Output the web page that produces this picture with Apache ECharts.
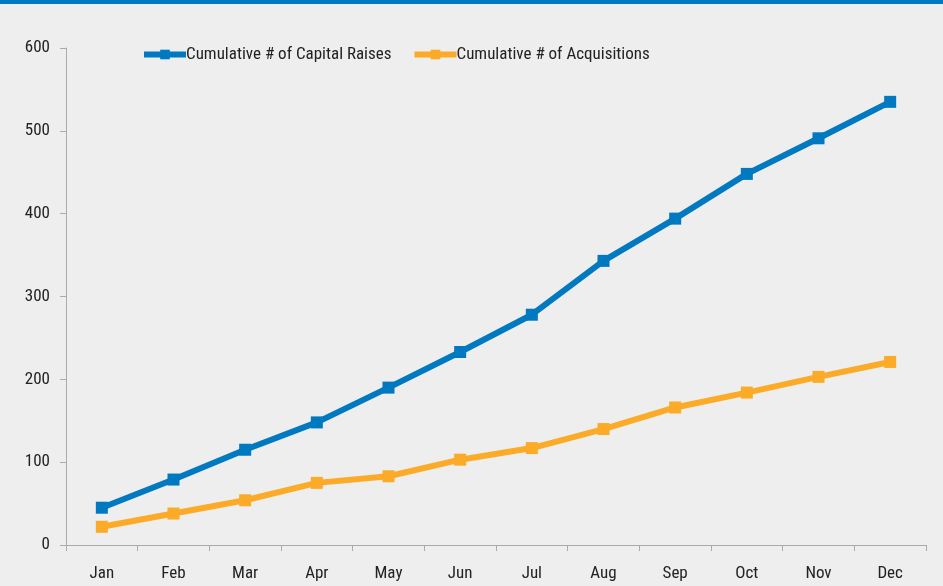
<!DOCTYPE html>
<html>
<head>
<meta charset="utf-8">
<script src="https://cdn.jsdelivr.net/npm/echarts@6/dist/echarts.min.js"></script>
<style>
  html, body { margin: 0; padding: 0; background: #edeeed; }
  #chart { width: 943px; height: 586px; }
</style>
</head>
<body>
<div id="chart"></div>
<script>
const months = ['Jan', 'Feb', 'Mar', 'Apr', 'May', 'Jun', 'Jul', 'Aug', 'Sep', 'Oct', 'Nov', 'Dec'];
const capitalRaises = [45, 79, 115, 148, 190, 233, 278, 343, 394, 448, 491, 535];
const acquisitions = [22, 38, 54, 75, 83, 103, 117, 140, 166, 184, 203, 221];

const font = '"Liberation Sans Narrow", "Roboto Condensed", "Liberation Sans", sans-serif';
const blue = '#0079c1';
const orange = '#fbab28';

const chart = echarts.init(document.getElementById('chart'));

chart.setOption({
  backgroundColor: '#edeeed',
  animation: false,
  textStyle: { fontFamily: font },
  graphic: [{
    type: 'rect',
    left: 0, top: 0,
    shape: { width: 943, height: 4 },
    style: { fill: blue }
  }],
  legend: {
    top: 41,
    left: 136,
    itemGap: 20,
    itemWidth: 42,
    itemHeight: 12,
    lineStyle: { width: 6 },
    textStyle: { fontFamily: font, fontSize: 17, color: '#222', padding: [0, 0, 0, -5] },
    data: ['Cumulative # of Capital Raises', 'Cumulative # of Acquisitions']
  },
  grid: { left: 66, right: 17, top: 48, bottom: 41, containLabel: false },
  xAxis: {
    type: 'category',
    data: months,
    boundaryGap: true,
    axisLine: { lineStyle: { color: '#aaa' } },
    axisTick: { show: true, length: 6, lineStyle: { color: '#aaa' } },
    axisLabel: { color: '#222', fontSize: 17, margin: 20, fontFamily: font }
  },
  yAxis: {
    type: 'value',
    min: 0, max: 600, interval: 100,
    axisLine: { show: true, lineStyle: { color: '#aaa' } },
    axisTick: { show: true, length: 6, lineStyle: { color: '#aaa' } },
    splitLine: { show: false },
    axisLabel: { color: '#222', fontSize: 17, margin: 16, fontFamily: font }
  },
  series: [{
    name: 'Cumulative # of Capital Raises',
    type: 'line',
    data: capitalRaises,
    color: blue,
    symbol: 'rect',
    symbolSize: 12,
    lineStyle: { width: 6, color: blue },
    itemStyle: { color: blue }
  }, {
    name: 'Cumulative # of Acquisitions',
    type: 'line',
    data: acquisitions,
    color: orange,
    symbol: 'rect',
    symbolSize: 12,
    lineStyle: { width: 6, color: orange },
    itemStyle: { color: orange }
  }]
});
</script>
</body>
</html>
